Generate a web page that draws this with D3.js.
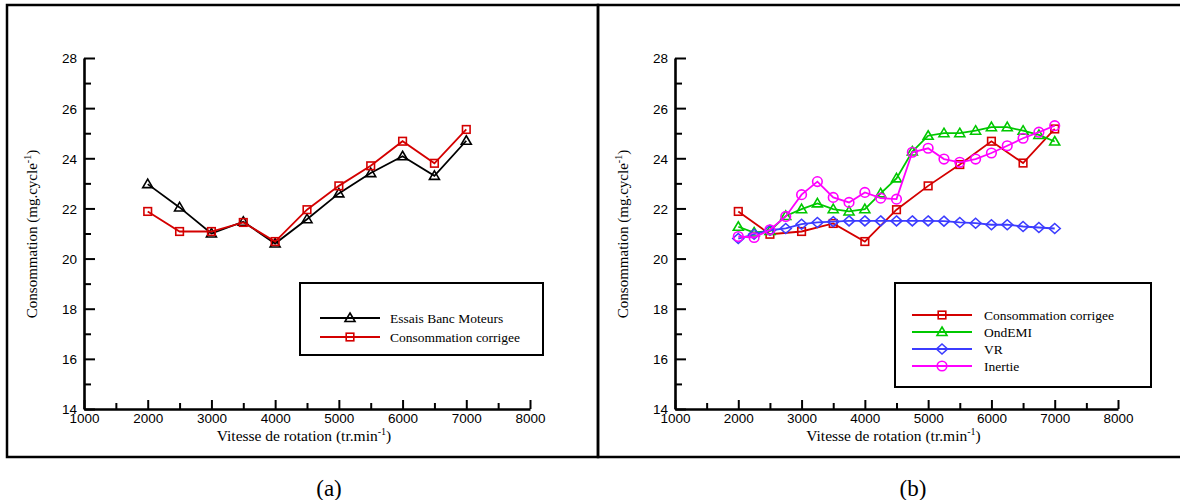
<!DOCTYPE html>
<html><head><meta charset="utf-8">
<script src="https://cdn.jsdelivr.net/npm/d3@7"></script>
<style>body{margin:0;background:#fff}svg{display:block}</style>
</head><body>
<svg id="c" width="1180" height="500"></svg>
<script>
// ---- data ----
const speedsA = [2000,2500,3000,3500,4000,4500,5000,5500,6000,6500,7000];
const essaisBanc = [22.97,22.04,21.0,21.47,20.6,21.57,22.6,23.41,24.08,23.3,24.7];
const corrigeeA = [21.88,21.08,21.08,21.44,20.68,21.95,22.9,23.7,24.68,23.8,25.15];
const corrigeeB = [21.88,20.97,21.08,21.4,20.68,21.95,22.9,23.75,24.68,23.81,25.17];
const speedsB = [2000,2250,2500,2750,3000,3250,3500,3750,4000,4250,4500,4750,5000,5250,5500,5750,6000,6250,6500,6750,7000];
const ondEMI = [21.27,21.04,21.1,21.7,21.97,22.2,21.97,21.88,21.97,22.6,23.2,24.27,24.9,25.0,25.0,25.1,25.24,25.24,25.1,24.93,24.67];
const vr = [20.8,20.97,21.13,21.2,21.37,21.44,21.47,21.5,21.5,21.5,21.5,21.5,21.5,21.49,21.44,21.41,21.35,21.35,21.28,21.24,21.2];
const inertie = [20.88,20.84,21.15,21.68,22.55,23.07,22.44,22.24,22.64,22.41,22.37,24.24,24.4,23.97,23.84,23.97,24.21,24.5,24.8,25.04,25.3];
const xMajorTicks = [1000,2000,3000,4000,5000,6000,7000,8000];
const xMinorTicks = [1500,2500,3500,4500,5500,6500,7500];
const yMajorTicks = [14,16,18,20,22,24,26,28];
const yMinorTicks = [15,17,19,21,23,25,27];
const panelLabels = ["(a)","(b)"];

const svg = d3.select("#c");
const SERIF = "'Liberation Serif','Times New Roman',serif";
const SANS = "'Liberation Sans',Arial,sans-serif";

// frames
svg.append("rect").attr("x",7).attr("y",5).attr("width",591).attr("height",452)
  .attr("fill","none").attr("stroke","#000").attr("stroke-width",2.5);
svg.append("rect").attr("x",598).attr("y",5).attr("width",590).attr("height",452)
  .attr("fill","none").attr("stroke","#000").attr("stroke-width",2.5);

function marker(g, type, color, x, y){
  const s = 4.5;
  if(type==="tri"){
    g.append("path").attr("d",`M${x},${y-s-0.5}L${x+s+0.5},${y+s-1}L${x-s-0.5},${y+s-1}Z`)
     .attr("fill","none").attr("stroke",color).attr("stroke-width",1.6);
  } else if(type==="sq"){
    g.append("rect").attr("x",x-3.8).attr("y",y-3.8).attr("width",7.6).attr("height",7.6)
     .attr("fill","none").attr("stroke",color).attr("stroke-width",1.6);
  } else if(type==="dia"){
    g.append("path").attr("d",`M${x},${y-5}L${x+5.5},${y}L${x},${y+5}L${x-5.5},${y}Z`)
     .attr("fill","none").attr("stroke",color).attr("stroke-width",1.6);
  } else if(type==="circ"){
    g.append("circle").attr("cx",x).attr("cy",y).attr("r",4.8)
     .attr("fill","none").attr("stroke",color).attr("stroke-width",1.6);
  }
}

function panel(cfg){
  const g = svg.append("g");
  const x = d3.scaleLinear().domain([1000,8000]).range([cfg.x0,cfg.x1]);
  const y = d3.scaleLinear().domain([14,28]).range([409,58]);

  // minor ticks
  g.append("g").attr("transform","translate(0,409)")
    .call(d3.axisBottom(x).tickValues(xMinorTicks).tickSize(-6).tickSizeOuter(0).tickFormat(""))
    .call(a=>a.select(".domain").remove());
  g.append("g").attr("transform",`translate(${cfg.x0},0)`)
    .call(d3.axisLeft(y).tickValues(yMinorTicks).tickSize(-7).tickSizeOuter(0).tickFormat(""))
    .call(a=>a.select(".domain").remove());
  // major ticks
  const xa = g.append("g").attr("transform","translate(0,409)")
    .call(d3.axisBottom(x).tickValues(xMajorTicks).tickSize(-9).tickSizeOuter(0).tickPadding(4).tickFormat(d3.format("d")));
  const ya = g.append("g").attr("transform",`translate(${cfg.x0},0)`)
    .call(d3.axisLeft(y).tickValues(yMajorTicks).tickSize(-11).tickSizeOuter(0).tickPadding(7).tickFormat(d3.format("d")));
  g.selectAll(".tick line").attr("stroke","#000").attr("stroke-width",2);
  g.selectAll(".domain").attr("stroke","#000").attr("stroke-width",2.6);
  g.selectAll(".tick text").attr("font-family",SANS).attr("font-size",13.5).attr("fill","#000");
  ya.selectAll(".tick text").attr("dy","0.36em");

  // series
  cfg.series.forEach(s=>{
    const line = d3.line().x((d,i)=>x(s.xs[i])).y(d=>y(d));
    g.append("path").datum(s.vals).attr("d",line).attr("fill","none")
      .attr("stroke",s.color).attr("stroke-width",1.8);
    s.vals.forEach((v,i)=>marker(g,s.marker,s.color,x(s.xs[i]),y(v)));
  });

  // axis titles
  const cx = (cfg.x0+cfg.x1)/2;
  const xt = g.append("text").attr("x",cx-3).attr("y",441).attr("text-anchor","middle")
    .attr("font-family",SERIF).attr("font-size",15.5).attr("fill","#000");
  xt.append("tspan").text("Vitesse de rotation (tr.min");
  xt.append("tspan").attr("dy",-6).attr("font-size",10).text("-1");
  xt.append("tspan").attr("dy",6).text(")");

  const yt = g.append("text").attr("transform",`translate(${cfg.x0-47},234) rotate(-90)`)
    .attr("text-anchor","middle").attr("font-family",SERIF).attr("font-size",15).attr("fill","#000");
  yt.append("tspan").text("Consommation (mg.cycle");
  yt.append("tspan").attr("dy",-6).attr("font-size",10).text("-1");
  yt.append("tspan").attr("dy",6).text(")");

  // legend
  const L = cfg.legend;
  g.append("rect").attr("x",L.x).attr("y",L.y).attr("width",L.w).attr("height",L.h)
    .attr("fill","#fff").attr("stroke","#000").attr("stroke-width",2);
  cfg.series.forEach((s,i)=>{
    const yy = L.y0 + i*L.dy;
    g.append("line").attr("x1",L.lx0).attr("x2",L.lx1).attr("y1",yy).attr("y2",yy)
      .attr("stroke",s.color).attr("stroke-width",1.8);
    marker(g,s.marker,s.color,(L.lx0+L.lx1)/2,yy);
    g.append("text").attr("x",L.tx).attr("y",yy+4.5).attr("font-family",SERIF)
      .attr("font-size",13.5).attr("fill","#000").text(s.name);
  });

  svg.append("text").attr("x",cfg.lab.x).attr("y",496).attr("text-anchor","middle")
    .attr("font-family",SERIF).attr("font-size",23).attr("fill","#000").text(cfg.lab.t);
}

panel({x0:84,x1:530,
  series:[
    {name:"Essais Banc Moteurs",xs:speedsA,vals:essaisBanc,color:"#000000",marker:"tri"},
    {name:"Consommation corrigee",xs:speedsA,vals:corrigeeA,color:"#d40000",marker:"sq"}
  ],
  legend:{x:300,y:283,w:243,h:72,y0:318,dy:19,lx0:320,lx1:380,tx:390},
  lab:{x:329,t:panelLabels[0]}
});
panel({x0:675,x1:1118,
  series:[
    {name:"Consommation corrigee",xs:speedsA,vals:corrigeeB,color:"#d40000",marker:"sq"},
    {name:"OndEMI",xs:speedsB,vals:ondEMI,color:"#00c800",marker:"tri"},
    {name:"VR",xs:speedsB,vals:vr,color:"#3c3cff",marker:"dia"},
    {name:"Inertie",xs:speedsB,vals:inertie,color:"#ff00ff",marker:"circ"}
  ],
  legend:{x:895,y:283,w:256,h:104,y0:315,dy:17,lx0:912,lx1:972,tx:984},
  lab:{x:913,t:panelLabels[1]}
});
</script>
</body></html>
